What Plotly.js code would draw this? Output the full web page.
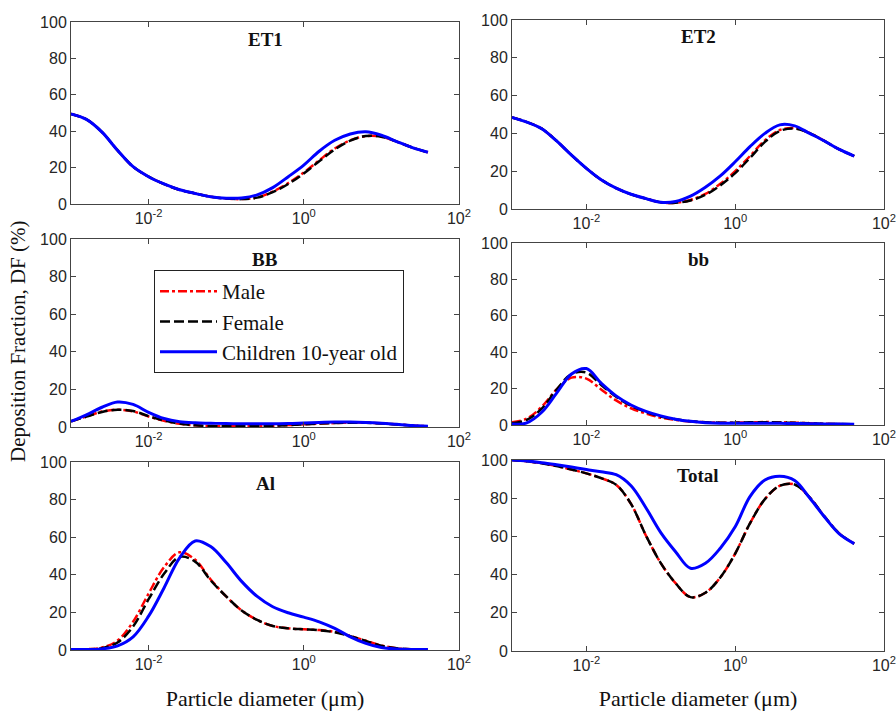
<!DOCTYPE html>
<html><head><meta charset="utf-8">
<script src="https://cdn.plot.ly/plotly-3.0.1.min.js"></script>
<style>html,body{margin:0;padding:0;background:#fff}#chart{width:896px;height:711px}</style>
</head><body><div id="chart"></div>
<script>
// Particle diameter (um), log-spaced sample points
const diameter = [0.001, 0.00158, 0.00251, 0.00398, 0.00631, 0.01, 0.0158, 0.0251, 0.0398, 0.0631, 0.1, 0.158, 0.251, 0.398, 0.631, 1, 1.58, 2.51, 3.98, 6.31, 10, 15.8, 25.1, 39.8];

const ET1_male   = [49.5, 46.5, 39.5, 29.5, 20.5, 15, 11, 7.8, 5.8, 4, 3.0, 2.7, 3.6, 6.8, 11.5, 17.3, 24, 30.5, 35, 37.3, 37, 34.3, 31, 28.4];
const ET1_female = [49.5, 46.5, 39.5, 29.5, 20.5, 15, 11, 7.8, 5.8, 4, 3.0, 2.7, 3.5, 6.5, 11, 16.8, 23.5, 30, 34.8, 37.3, 37, 34.3, 31, 28.4];
const ET1_child  = [49.5, 46.5, 39.5, 29.5, 20.5, 15, 11, 7.8, 5.8, 4, 3.2, 3.3, 5, 9, 15, 21.4, 29, 35, 38.5, 39.7, 37.8, 34.3, 31, 28.4];

const ET2_male   = [48.5, 46, 42.5, 36, 28.5, 21.5, 15.5, 11, 7.8, 5.5, 3.5, 3.3, 4.8, 8, 13.3, 20, 28, 36.3, 41.8, 42.8, 40.2, 36, 31.5, 28];
const ET2_female = [48.5, 46, 42.5, 36, 28.5, 21.5, 15.5, 11, 7.8, 5.5, 3.5, 3.3, 4.5, 7.5, 12.5, 19, 27, 35.5, 41.3, 42.6, 40.2, 36, 31.5, 28];
const ET2_child  = [48.5, 46, 42.5, 36, 28.5, 21.5, 15.5, 11, 7.8, 5.5, 3.6, 4.0, 6.8, 11.5, 17.5, 25, 33, 40, 44.5, 44, 40, 36, 31.5, 28];

const BB_male   = [3, 5.6, 8.2, 9.2, 8.3, 5.6, 3.3, 1.7, 0.9, 0.5, 0.4, 0.4, 0.5, 0.7, 1.0, 1.4, 1.8, 2.1, 2.3, 2.3, 2.0, 1.4, 0.8, 0.4];
const BB_female = [3, 5.5, 8, 9.2, 8.5, 5.8, 3.5, 1.8, 0.9, 0.5, 0.4, 0.4, 0.5, 0.7, 1.0, 1.4, 1.8, 2.1, 2.3, 2.2, 1.9, 1.3, 0.7, 0.4];
const BB_child  = [3, 6.5, 10.5, 13.3, 12, 7.8, 4.5, 2.8, 2.2, 2, 1.8, 1.7, 1.7, 1.7, 1.8, 2.1, 2.4, 2.6, 2.6, 2.4, 2, 1.4, 0.8, 0.4];

const bb_male   = [1.5, 3.5, 10, 19.5, 26, 25.5, 19.5, 13.5, 9.2, 6.3, 4, 2.8, 1.9, 1.5, 1.3, 1.3, 1.5, 1.6, 1.5, 1.3, 1.0, 0.7, 0.5, 0.4];
const bb_female = [1, 2.8, 9, 19.5, 28, 28.8, 22, 15.5, 10.5, 7.2, 4.6, 3.1, 2.1, 1.5, 1.3, 1.3, 1.5, 1.5, 1.4, 1.2, 0.9, 0.6, 0.5, 0.4];
const bb_child  = [0.5, 1.2, 7, 17.5, 28, 31, 23, 16, 11, 7.5, 5, 3.2, 2, 1.3, 1, 1, 1, 1, 0.9, 0.8, 0.7, 0.6, 0.5, 0.4];

const AI_male   = [0.3, 0.4, 1.3, 5, 15, 30, 44, 52, 48, 37.5, 28.5, 21, 16, 12.8, 11.5, 11, 10.6, 9.6, 7.5, 4.9, 2.4, 0.9, 0.4, 0.3];
const AI_female = [0.3, 0.4, 1, 4, 12.5, 27, 40.5, 49.5, 47, 37, 28.5, 21, 16, 12.8, 11.5, 11, 10.5, 9.4, 7.3, 4.8, 2.3, 0.9, 0.4, 0.3];
const AI_child  = [0.3, 0.3, 0.6, 2.2, 7, 18, 33, 49, 58, 55, 46.5, 36.5, 28.5, 23, 19.8, 17.5, 15, 11.5, 7, 3.5, 1.3, 0.5, 0.3, 0.3];

const Total_male   = [100, 99.3, 98.3, 96.8, 95, 93, 90.5, 87, 77, 60.5, 46, 35.5, 28.2, 30.5, 38.5, 51, 66.8, 79.5, 86.5, 87.2, 80.5, 70.5, 61.5, 56.2];
const Total_female = [100, 99.3, 98.3, 96.8, 95, 93, 90.5, 87, 77, 60.5, 46, 35.5, 28.2, 30.5, 38.5, 51, 66.8, 79.5, 86.5, 87.2, 80.5, 70.5, 61.5, 56.2];
const Total_child  = [100, 99.5, 98.6, 97.5, 96.3, 95, 93.8, 92.3, 86.5, 75, 62, 52, 43.3, 45.9, 53.8, 65, 80.8, 89.5, 91.5, 89.3, 80.2, 70.3, 61.3, 56.2];

const panelTitles = ['ET1', 'ET2', 'BB', 'bb', 'Al', 'Total'];
const seriesNames = ['Male', 'Female', 'Children 10-year old'];
const xTickVals = [0.01, 1, 100];
const xTickText = ['10<sup>-2</sup>', '10<sup>0</sup>', '10<sup>2</sup>'];
const yTickVals = [0, 20, 40, 60, 80, 100];

const panelData = [
  [ET1_male, ET1_female, ET1_child],
  [ET2_male, ET2_female, ET2_child],
  [BB_male, BB_female, BB_child],
  [bb_male, bb_female, bb_child],
  [AI_male, AI_female, AI_child],
  [Total_male, Total_female, Total_child]
];

const W = 896, H = 711;
const seriesStyle = [
  {color: '#ff0000', dash: '9px,3px,3px,3px', width: 2.5},
  {color: '#000000', dash: '10px,4px', width: 2.5},
  {color: '#0000ff', dash: 'solid', width: 3}
];
// pixel boxes [left, right, top, bottom]
const boxes = [
  [71, 459, 22, 204], [512, 884, 20, 209],
  [71, 459, 239, 427], [512, 884, 243, 425],
  [71, 459, 462, 650], [512, 884, 460, 651]
];
const titleY = [39, 36, 259, 259, 483, 475];

const traces = [];
const layout = {
  width: W, height: H,
  margin: {l: 0, r: 0, t: 0, b: 0},
  paper_bgcolor: '#fff', plot_bgcolor: '#fff',
  showlegend: true,
  legend: {
    x: 154 / W, y: 1 - 270 / H, xanchor: 'left', yanchor: 'top',
    bordercolor: '#222', borderwidth: 1, bgcolor: '#fff',
    font: {family: 'Liberation Serif, serif', size: 21, color: '#111'},
    itemwidth: 57, tracegroupgap: 0
  },
  annotations: [],
  font: {family: 'Liberation Sans, Arial, sans-serif', size: 16, color: '#262626'}
};

panelData.forEach((series, i) => {
  const n = i + 1;
  const xa = 'xaxis' + (n === 1 ? '' : n), ya = 'yaxis' + (n === 1 ? '' : n);
  const xr = 'x' + (n === 1 ? '' : n), yr = 'y' + (n === 1 ? '' : n);
  const b = boxes[i];
  series.forEach((vals, s) => {
    traces.push({
      x: diameter, y: vals, xaxis: xr, yaxis: yr,
      type: 'scatter', mode: 'lines', name: seriesNames[s],
      legendgroup: seriesNames[s], showlegend: i === 2,
      line: {color: seriesStyle[s].color, dash: seriesStyle[s].dash, width: seriesStyle[s].width, shape: 'spline', smoothing: 1},
      hoverinfo: 'skip'
    });
  });
  layout[xa] = {
    type: 'log', range: [-3, 2.0005], domain: [b[0] / W, b[1] / W], anchor: yr,
    tickvals: xTickVals, ticktext: xTickText, ticks: 'inside', ticklen: 5,
    ticklabeloverflow: 'allow',
    showline: true, mirror: 'ticks', linecolor: '#444', linewidth: 1, tickcolor: '#444',
    showgrid: false, zeroline: false,
    tickfont: {family: 'Liberation Sans, Arial, sans-serif', size: 16, color: '#262626'}
  };
  layout[ya] = {
    range: [0, 100], domain: [1 - b[3] / H, 1 - b[2] / H], anchor: xr,
    tickvals: yTickVals, ticks: 'inside', ticklen: 5,
    showline: true, mirror: 'ticks', linecolor: '#444', linewidth: 1, tickcolor: '#444',
    showgrid: false, zeroline: false,
    tickfont: {family: 'Liberation Sans, Arial, sans-serif', size: 16, color: '#262626'}
  };
  if (i >= 4) {
    layout[xa].title = {text: 'Particle diameter (μm)', font: {family: 'Liberation Serif, serif', size: 22, color: '#111'}, standoff: 22};
  }
  layout.annotations.push({
    text: '<b>' + panelTitles[i] + '</b>', xref: 'paper', yref: 'paper',
    x: (b[0] + b[1]) / 2 / W, y: 1 - titleY[i] / H, xanchor: 'center', yanchor: 'middle',
    showarrow: false, font: {family: 'Liberation Serif, serif', size: 19, color: '#111'}
  });
});

layout.annotations.push({
  text: 'Deposition Fraction, DF (%)', xref: 'paper', yref: 'paper',
  x: 18 / W, y: 1 - 342 / H, xanchor: 'center', yanchor: 'middle', textangle: -90,
  showarrow: false, font: {family: 'Liberation Serif, serif', size: 21, color: '#111'}
});

Plotly.newPlot('chart', traces, layout, {staticPlot: true, displayModeBar: false});
</script>
</body></html>
